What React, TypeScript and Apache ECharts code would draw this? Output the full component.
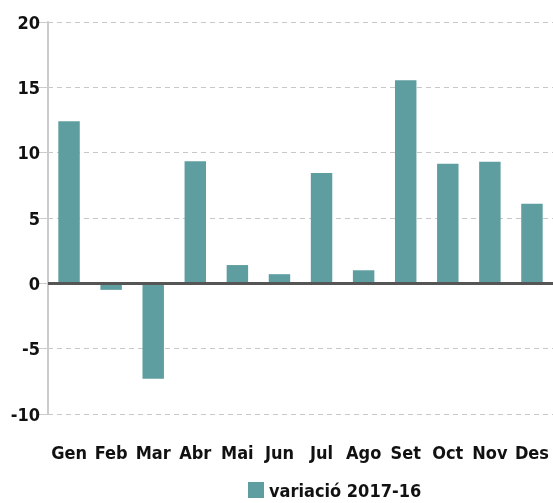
import React, { useEffect, useRef } from "react";
import * as echarts from "echarts";

const months = ["Gen", "Feb", "Mar", "Abr", "Mai", "Jun", "Jul", "Ago", "Set", "Oct", "Nov", "Des"];
const variacio = [12.4, -0.5, -7.3, 9.35, 1.4, 0.7, 8.45, 1.0, 15.55, 9.15, 9.3, 6.1];
const seriesName = "variació 2017-16";

const FONT = "'DejaVu Sans Condensed', 'Liberation Sans Narrow', sans-serif";

export default function App() {
  const ref = useRef<HTMLDivElement>(null);
  useEffect(() => {
    const chart = echarts.init(ref.current!, null, { renderer: "svg" });
    chart.setOption({
      animation: false,
      textStyle: { fontFamily: FONT },
      grid: { left: 48, top: 22, bottom: 89, right: -10, containLabel: false },
      legend: {
        data: [{ name: seriesName, icon: "rect" }],
        left: 243,
        top: 476,
        itemWidth: 16,
        itemHeight: 16,
        itemGap: 6,
        textStyle: { fontFamily: FONT, fontWeight: "bold", fontSize: 18, color: "#111" },
      },
      xAxis: {
        type: "category",
        data: months,
        axisLine: { show: false, onZero: false },
        axisTick: { show: false },
        axisLabel: { fontFamily: FONT, fontWeight: "bold", fontSize: 18, color: "#111", margin: 29, interval: 0 },
      },
      yAxis: {
        type: "value",
        min: -10,
        max: 20,
        interval: 5,
        axisLine: { show: true, lineStyle: { color: "#ccc", width: 2 } },
        axisTick: { show: true, length: 12, lineStyle: { color: "#ccc", width: 1 } },
        axisLabel: { fontFamily: FONT, fontWeight: "bold", fontSize: 18, color: "#111", margin: 8 },
        splitLine: { show: true, lineStyle: { color: "#c8c8c8", type: [5, 4], width: 1 } },
      },
      series: [
        {
          name: seriesName,
          type: "bar",
          data: variacio,
          barWidth: "51%",
          itemStyle: { color: "#5f9ea0" },
          markLine: {
            silent: true,
            symbol: "none",
            label: { show: false },
            lineStyle: { color: "#555", width: 3, type: "solid" },
            data: [{ yAxis: 0 }],
          },
        },
      ],
    });
    return () => chart.dispose();
  }, []);
  return <div ref={ref} style={{ position: "fixed", left: 0, top: 0, width: 553, height: 503 }} />;
}
